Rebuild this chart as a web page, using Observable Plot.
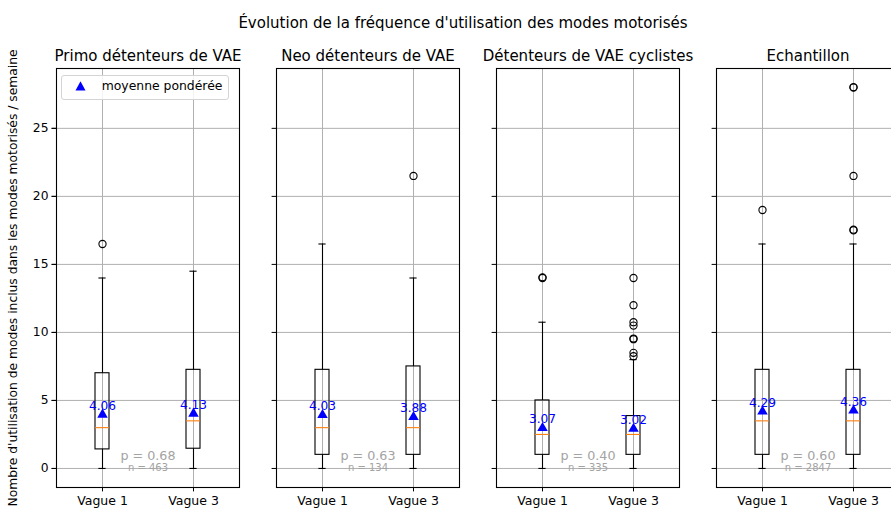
<!DOCTYPE html>
<html>
<head>
<meta charset="utf-8">
<script src="https://cdn.jsdelivr.net/npm/d3@7"></script>
<script src="https://cdn.jsdelivr.net/npm/@observablehq/plot@0.6"></script>
<style>
  body { margin: 0; background: #fff; overflow: hidden; font-family: "DejaVu Sans", sans-serif; }
  #wrap { position: relative; width: 926px; height: 520px; }
  #title { position: absolute; left: 0; top: 16px; width: 926px; text-align: center; font-size: 15px; line-height: 15px; color: #000; }
  #legend { position: absolute; left: 61px; top: 75px; width: 166px; height: 23px; border: 1px solid #d4d4d4; border-radius: 3px; background: rgba(255,255,255,0.85); }
  #legend svg { position: absolute; left: 12.7px; top: 5.3px; }
  #legend span { position: absolute; left: 39.7px; top: 4.2px; font-size: 12.4px; line-height: 12.4px; color: #000; white-space: nowrap; }
  #chart { position: absolute; left: 0; top: 0; }
</style>
</head>
<body>
<div id="wrap">
  <div id="chart"></div>
  <div id="title">Évolution de la fréquence d'utilisation des modes motorisés</div>
  <div id="legend">
    <svg width="11" height="10" viewBox="0 0 11 10"><polygon points="5.5,0.3 10.5,9.5 0.5,9.5" fill="blue"/></svg>
    <span>moyenne pondérée</span>
  </div>
</div>
<script>
const panels = ["Primo détenteurs de VAE", "Neo détenteurs de VAE", "Détenteurs de VAE cyclistes", "Echantillon"];
const waves = ["Vague 1", "Vague 3"];
const yTicks = [0, 5, 10, 15, 20, 25];
const yLabel = "Nombre d'utilisation de modes inclus dans les modes motorisés / semaine";

// per panel: [Vague 1, Vague 3]
const whiskerLow  = [[0, 0], [0, 0], [0, 0], [0, 0]];
const q1          = [[1.4, 1.45], [1, 1], [1, 1], [1, 1]];
const medians     = [[3, 3.5], [3, 3], [2.5, 2.5], [3.5, 3.5]];
const q3          = [[7, 7.25], [7.25, 7.5], [5, 3.85], [7.25, 7.25]];
const whiskerHigh = [[14, 14.5], [16.5, 14], [10.75, 8], [16.5, 16.5]];
const weightedMeans = [[4.06, 4.13], [4.03, 3.88], [3.07, 3.02], [4.29, 4.36]];
const outliers = [
  [[16.5], []],
  [[], [21.5]],
  [[14, 14.05], [8.25, 8.5, 9.5, 9.55, 10.5, 10.75, 12, 14]],
  [[19], [17.5, 17.55, 21.5, 28, 28.03]]
];
const pValues = [0.68, 0.63, 0.40, 0.60];
const sampleSizes = [463, 134, 335, 2847];

const boxes = panels.flatMap((p, i) => waves.map((w, j) => ({
  panel: p, wave: w, low: whiskerLow[i][j], q1: q1[i][j], med: medians[i][j],
  q3: q3[i][j], high: whiskerHigh[i][j], mean: weightedMeans[i][j]
})));
const fliers = panels.flatMap((p, i) => waves.flatMap((w, j) =>
  outliers[i][j].map(v => ({panel: p, wave: w, value: v}))));
const stats = panels.map((p, i) => ({panel: p, p: pValues[i], n: sampleSizes[i]}));

const chart = Plot.plot({
  width: 926,
  height: 520,
  marginTop: 68,
  marginBottom: 33,
  marginLeft: 55,
  marginRight: 26.5,
  style: {fontFamily: "DejaVu Sans", fontSize: "12.5px", color: "black", background: "white", overflow: "visible"},
  fx: {domain: panels, axis: null, paddingInner: 0.167, paddingOuter: 0},
  x: {domain: waves, type: "band", paddingInner: 0.85, paddingOuter: 0.425},
  y: {domain: [-1.4, 29.4]},
  marks: [
    Plot.gridY(yTicks, {stroke: "#b0b0b0", strokeOpacity: 1, strokeWidth: 1}),
    Plot.gridX({stroke: "#b0b0b0", strokeOpacity: 1, strokeWidth: 1}),
    Plot.frame({stroke: "black", strokeWidth: 1.1}),
    Plot.axisY(yTicks, {tickSize: 4.4, tickPadding: 3.6, label: yLabel, labelAnchor: "center", labelOffset: 48, labelArrow: "none", fontSize: 12.3}),
    Plot.axisY(yTicks, {tickSize: 4.4, tickFormat: () => "", label: null, facetAnchor: null}),
    Plot.axisX({tickSize: 4.4, tickPadding: 4.5, label: null, fontSize: 12.5}),
    Plot.ruleX(boxes, {fx: "panel", x: "wave", y1: "q1", y2: "low", stroke: "black", strokeWidth: 1.1}),
    Plot.ruleX(boxes, {fx: "panel", x: "wave", y1: "q3", y2: "high", stroke: "black", strokeWidth: 1.1}),
    Plot.tickY(boxes, {fx: "panel", x: "wave", y: "low", insetLeft: 3.4, insetRight: 3.4, stroke: "black", strokeWidth: 1.1}),
    Plot.tickY(boxes, {fx: "panel", x: "wave", y: "high", insetLeft: 3.4, insetRight: 3.4, stroke: "black", strokeWidth: 1.1}),
    Plot.barY(boxes, {fx: "panel", x: "wave", y1: "q1", y2: "q3", fill: "none", stroke: "black", strokeWidth: 1.1}),
    Plot.tickY(boxes, {fx: "panel", x: "wave", y: "med", stroke: "#ff7f0e", strokeWidth: 1.1}),
    Plot.dot(fliers, {fx: "panel", x: "wave", y: "value", r: 3.6, fill: "none", stroke: "black", strokeWidth: 1.1}),
    Plot.dot(boxes, {fx: "panel", x: "wave", y: "mean", symbol: "triangle", r: 3.9, dy: 1.4, fill: "blue", stroke: "none"}),
    Plot.text(boxes, {fx: "panel", x: "wave", y: "mean", text: d => d.mean.toFixed(2), fill: "blue", fontSize: 12.2, dy: -7.5}),
    Plot.text(stats, {fx: "panel", frameAnchor: "bottom", dy: -27.3, text: d => `p = ${d.p.toFixed(2)}`, fill: "#a3a3a3", fontSize: 12.7}),
    Plot.text(stats, {fx: "panel", frameAnchor: "bottom", dy: -16.3, text: d => `n = ${d.n}`, fill: "#a3a3a3", fontSize: 10}),
    Plot.text(panels, {fx: d => d, text: d => d, frameAnchor: "top", dy: -18, fontSize: 15, fill: "black"})
  ]
});
document.getElementById("chart").appendChild(chart);
</script>
</body>
</html>
